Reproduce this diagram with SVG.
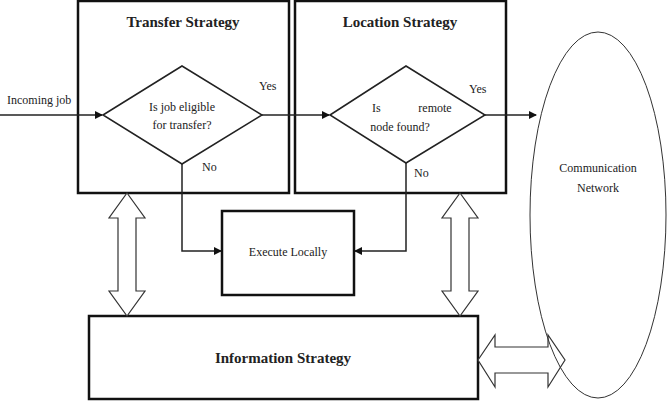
<svg xmlns="http://www.w3.org/2000/svg" width="669" height="402" viewBox="0 0 669 402">
<style>
text{font-family:"Liberation Serif",serif;fill:#222}
.b{font-weight:bold;font-size:15px}
.s{font-size:12px}
.box{fill:#fff;stroke:#111;stroke-width:2.5}
.ln{fill:none;stroke:#222;stroke-width:1.5}
.da{fill:#fff;stroke:#333;stroke-width:1.2}
</style>
<defs><marker id="ah" markerWidth="8" markerHeight="8" refX="7" refY="4" orient="auto" markerUnits="userSpaceOnUse"><path d="M0,0 L8,4 L0,8 Z" fill="#111"/></marker></defs>
<rect width="669" height="402" fill="#fff"/>
<g id="transfer"><rect class="box" x="78" y="1" width="211" height="192"/><text class="b" x="183" y="27" text-anchor="middle">Transfer Strategy</text>
<polygon class="ln" points="103,115 182,66 262,115 182,164"/><text class="s" x="182" y="111" text-anchor="middle">Is job eligible</text><text class="s" x="182" y="129" text-anchor="middle">for transfer?</text></g>
<g id="location"><rect class="box" x="295" y="1" width="211" height="192"/><text class="b" x="400" y="27" text-anchor="middle">Location Strategy</text>
<polygon class="ln" points="330,115 406,66 485,115 406,163"/><text class="s" x="372" y="112">Is</text><text class="s" x="435" y="112" text-anchor="middle">remote</text><text class="s" x="400" y="131" text-anchor="middle">node found?</text></g>
<g id="execute"><rect class="box" x="222" y="211" width="132" height="84"/><text class="s" x="288" y="256" text-anchor="middle">Execute Locally</text></g>
<g id="information"><rect class="box" x="89" y="316" width="389" height="83"/><text class="b" x="283" y="363" text-anchor="middle">Information Strategy</text></g>
<g id="connectors">
<line class="ln" x1="0" y1="115" x2="102" y2="115" marker-end="url(#ah)"/>
<line class="ln" x1="262" y1="115" x2="329" y2="115" marker-end="url(#ah)"/>
<line class="ln" x1="485" y1="115" x2="536" y2="115" marker-end="url(#ah)"/>
<polyline class="ln" points="182,164 182,251 221,251" marker-end="url(#ah)"/>
<polyline class="ln" points="406,163 406,251 355,251" marker-end="url(#ah)"/>
<polygon class="da" points="127,193 145,218 136,218 136,291 145,291 127,316 109,291 118,291 118,218 109,218"/>
<polygon class="da" points="460,193 478,218 469,218 469,291 478,291 460,316 442,291 451,291 451,218 442,218"/>
<polygon class="da" points="478,360 495,335 495,347 548,347 548,335 565,360 548,387 548,373 495,373 495,387"/>
<text class="s" x="7" y="104">Incoming job</text>
<text class="s" x="259" y="90">Yes</text>
<text class="s" x="202" y="171">No</text>
<text class="s" x="469" y="93">Yes</text>
<text class="s" x="414" y="177">No</text>
</g>
<g id="network"><ellipse cx="598" cy="215" rx="68" ry="183" fill="none" stroke="#333" stroke-width="1"/><text class="s" x="598" y="172" text-anchor="middle">Communication</text><text class="s" x="598" y="192" text-anchor="middle">Network</text></g>
</svg>
